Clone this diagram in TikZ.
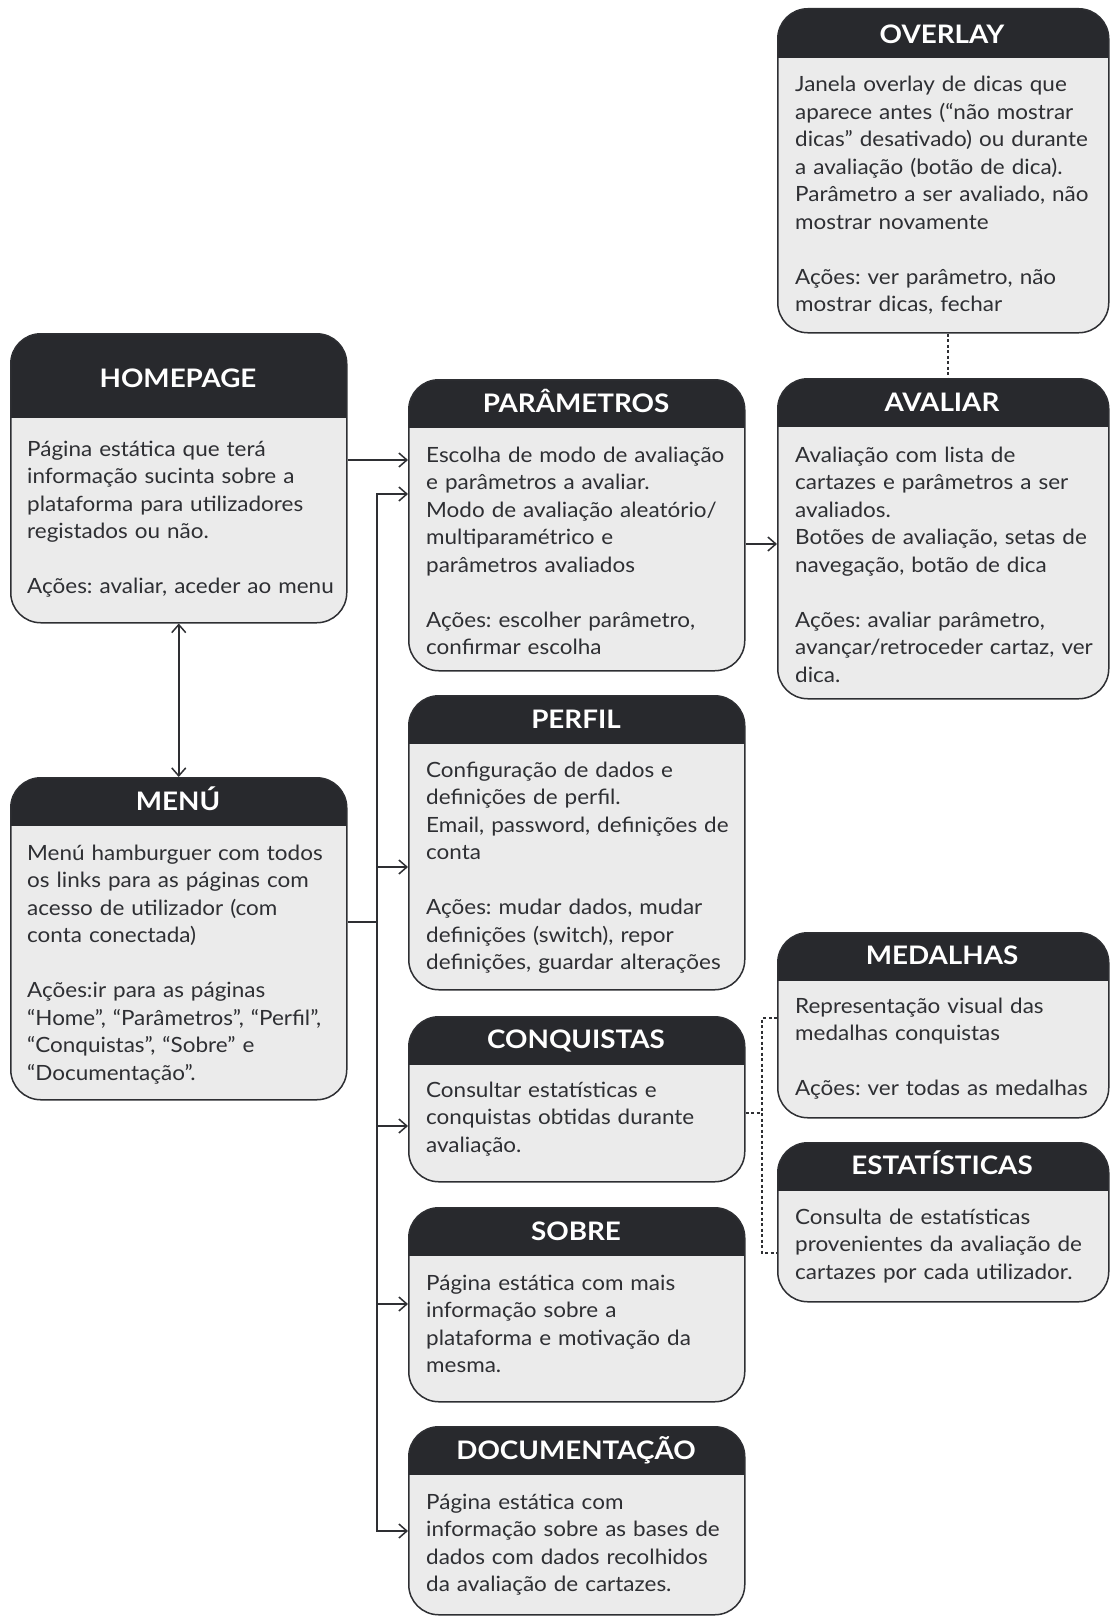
\documentclass[tikz,border=0pt]{standalone}
\usepackage{fontspec}
\setmainfont{Lato}[FakeStretch=1.07]
\newfontfamily\headfont{Lato}[FakeStretch=1.09]
\usetikzlibrary{arrows.meta}
\definecolor{headcol}{HTML}{28292D}
\definecolor{bodycol}{HTML}{EBEBEB}
\definecolor{linecol}{HTML}{2E2F33}
\frenchspacing
\begin{document}
\begin{tikzpicture}[x=1pt, y=-1pt,
    page/.style={draw=linecol, line width=1.5pt, fill=bodycol, rounded corners=30pt,
      anchor=north west, inner sep=0pt, minimum width=336pt,
      path picture={\fill[headcol, sharp corners] (path picture bounding box.north west)
        rectangle ([yshift=-#1]path picture bounding box.north east);}},
    page/.default=48pt,
    title/.style={font=\headfont\bfseries\fontsize{25.5}{25.5}\selectfont, text=white,
      anchor=base, inner sep=0pt},
    body/.style={font=\fontsize{21}{27.5}\selectfont, text=linecol,
      anchor=base west, inner sep=0pt, text width=320pt, align=left},
    plain/.style={line width=1.5pt, draw=linecol},
    link/.style={plain, -{Straight Barb[length=8pt,width=14pt]}},
    bothlink/.style={plain, {Straight Barb[length=8pt,width=14pt]}-{Straight Barb[length=8pt,width=14pt]}},
    dotlink/.style={plain, dash pattern=on 3pt off 2.5pt}]

    \useasboundingbox (0,0) rectangle (1110,1616);

    % left column
    \node [page=84pt, minimum height=289pt] (homepage) at (10,333) {};
    \node [title] (homepage-t) at (178,387) {HOMEPAGE};
    \node [body] (homepage-b) at (27,456) {Página estática que terá\\
        informação sucinta sobre a\\ plataforma para utilizadores\\
        registados ou não.\\[27.5pt] Ações: avaliar, aceder ao menu};

    \node [page, minimum height=322pt] (menu) at (10,777) {};
    \node [title] (menu-t) at (178,810) {MENÚ};
    \node [body] (menu-b) at (27,860) {Menú hamburguer com todos\\
        os links para as páginas com\\ acesso de utilizador (com\\
        conta conectada)\\[27.5pt] Ações:ir para as páginas\\
        “Home”, “Parâmetros”, “Perfil”,\\ “Conquistas”, “Sobre” e\\
        “Documentação”.};

    % middle column
    \node [page, minimum height=291pt] (parametros) at (408,379) {};
    \node [title] (parametros-t) at (576,412) {PARÂMETROS};
    \node [body] (parametros-b) at (426,462) {Escolha de modo de avaliação\\
        e parâmetros a avaliar.\\ Modo de avaliação aleatório/\\
        multiparamétrico e\\ parâmetros avaliados\\[27.5pt]
        Ações: escolher parâmetro,\\ confirmar escolha};

    \node [page, minimum height=294pt] (perfil) at (408,695) {};
    \node [title] (perfil-t) at (576,728) {PERFIL};
    \node [body] (perfil-b) at (426,777) {Configuração de dados e\\
        definições de perfil.\\ Email, password, definições de\\
        conta\\[27.5pt] Ações: mudar dados, mudar\\
        definições (switch), repor\\ definições, guardar alterações};

    \node [page, minimum height=165pt] (conquistas) at (408,1016) {};
    \node [title] (conquistas-t) at (576,1048) {CONQUISTAS};
    \node [body] (conquistas-b) at (426,1097) {Consultar estatísticas e\\
        conquistas obtidas durante\\ avaliação.};

    \node [page, minimum height=194pt] (sobre) at (408,1207) {};
    \node [title] (sobre-t) at (576,1240) {SOBRE};
    \node [body] (sobre-b) at (426,1290) {Página estática com mais\\
        informação sobre a\\ plataforma e motivação da\\ mesma.};

    \node [page, minimum height=188pt] (documentacao) at (408,1426) {};
    \node [title] (documentacao-t) at (576,1459) {DOCUMENTAÇÃO};
    \node [body] (documentacao-b) at (426,1509) {Página estática com\\
        informação sobre as bases de\\ dados com dados recolhidos\\
        da avaliação de cartazes.};

    % right column
    \node [page=49pt, minimum width=331pt, minimum height=324pt] (overlay) at (777,8) {};
    \node [title] (overlay-t) at (942,44) {OVERLAY};
    \node [body] (overlay-b) at (795,92) {Janela overlay de dicas que\\
        aparece antes (“não mostrar\\ dicas” desativado) ou durante\\
        a avaliação (botão de dica).\\ Parâmetro a ser avaliado, não\\
        mostrar novamente\\[27.5pt] Ações: ver parâmetro, não\\
        mostrar dicas, fechar};

    \node [page, minimum width=331pt, minimum height=320pt] (avaliar) at (777,378) {};
    \node [title] (avaliar-t) at (942,411) {AVALIAR};
    \node [body] (avaliar-b) at (795,462) {Avaliação com lista de\\
        cartazes e parâmetros a ser\\ avaliados.\\
        Botões de avaliação, setas de\\ navegação, botão de dica\\[27.5pt]
        Ações: avaliar parâmetro,\\ avançar/retroceder cartaz, ver\\ dica.};

    \node [page, minimum width=331pt, minimum height=185pt] (medalhas) at (777,932) {};
    \node [title] (medalhas-t) at (942,964) {MEDALHAS};
    \node [body] (medalhas-b) at (795,1013) {Representação visual das\\
        medalhas conquistas\\[27.5pt] Ações: ver todas as medalhas};

    \node [page, minimum width=331pt, minimum height=159pt] (estatisticas) at (777,1142) {};
    \node [title] (estatisticas-t) at (942,1174) {ESTATÍSTICAS};
    \node [body] (estatisticas-b) at (795,1224) {Consulta de estatísticas\\
        provenientes da avaliação de\\ cartazes por cada utilizador.};

    % connectors
    \coordinate (bus) at (377,922);
    \coordinate (split) at (762,1113);

    \draw [link] (homepage.east |- 0,460) -- (parametros.west |- 0,460);
    \draw [bothlink] (homepage.south) -- (menu.north);
    \draw [plain] (menu.east |- bus) -- (bus);
    \draw [link] (bus) |- (parametros.west |- 0,494);
    \draw [link] (bus) |- (documentacao.west |- 0,1531);
    \draw [link] (bus |- 0,867) -- (perfil.west |- 0,867);
    \draw [link] (bus |- 0,1126) -- (conquistas.west |- 0,1126);
    \draw [link] (bus |- 0,1304) -- (sobre.west |- 0,1304);
    \draw [link] (parametros.east |- 0,544) -- (avaliar.west |- 0,544);

    \draw [dotlink] (overlay.south -| 948,0) -- (avaliar.north -| 948,0);
    \draw [dotlink] (conquistas.east |- split) -- (split);
    \draw [dotlink] (medalhas.west |- 0,1018) -| (split) |- (estatisticas.west |- 0,1253);
\end{tikzpicture}
\end{document}
